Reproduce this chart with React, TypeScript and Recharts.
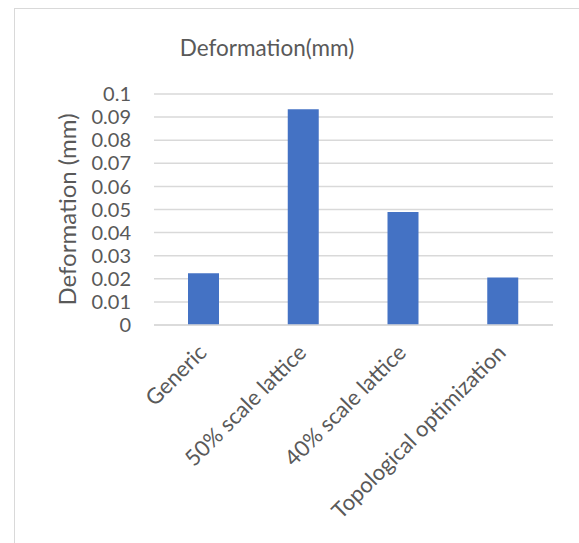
import { BarChart, Bar, XAxis, YAxis, CartesianGrid } from "recharts";

const categories = [
    "Generic",
    "50% scale lattice",
    "40% scale lattice",
    "Topological optimization",
];
const deformation = [0.0224, 0.0934, 0.0489, 0.0206];
const yTicks = [0, 0.01, 0.02, 0.03, 0.04, 0.05, 0.06, 0.07, 0.08, 0.09, 0.1];

const data = categories.map((name, i) => ({ name, value: deformation[i] }));

const FONT = "Lato, 'Open Sans', sans-serif";
const TEXT = "#595959";

export default function App() {
    return (
        <div
            style={{
                position: "absolute",
                left: 0,
                top: 0,
                width: 579,
                height: 543,
                background: "#fff",
                fontFamily: FONT,
            }}
        >
            {/* chart frame: only top and left edges are visible */}
            <div
                style={{
                    position: "absolute",
                    left: 14,
                    top: 8,
                    width: 570,
                    height: 540,
                    borderTop: "1.5px solid #d9d9d9",
                    borderLeft: "1.5px solid #d9d9d9",
                }}
            />
            <div
                style={{
                    position: "absolute",
                    left: 0,
                    width: 534,
                    top: 35,
                    textAlign: "center",
                    fontSize: 22.5,
                    color: TEXT,
                    lineHeight: "26px",
                }}
            >
                Deformation(mm)
            </div>
            <div style={{ position: "absolute", left: 0, top: 0 }}>
                <BarChart
                    width={579}
                    height={543}
                    data={data}
                    margin={{ top: 94, right: 26, bottom: 18, left: 0 }}
                >
                    <CartesianGrid
                        vertical={false}
                        stroke="#d9d9d9"
                        strokeWidth={1.5}
                    />
                    <XAxis
                        dataKey="name"
                        height={200}
                        interval={0}
                        axisLine={{ stroke: "#d9d9d9", strokeWidth: 1.5 }}
                        tickLine={false}
                        tickMargin={12}
                        angle={-45}
                        textAnchor="end"
                        tick={{ fill: TEXT, fontSize: 22, fontFamily: FONT, dx: -7 }}
                    />
                    <YAxis
                        width={154}
                        domain={[0, 0.1]}
                        ticks={yTicks}
                        interval={0}
                        axisLine={false}
                        tickLine={false}
                        tickMargin={17}
                        tick={{ fill: TEXT, fontSize: 20, fontFamily: FONT }}
                        label={{
                            value: "Deformation (mm)",
                            angle: -90,
                            position: "center",
                            dx: -10,
                            fill: TEXT,
                            fontSize: 24,
                            fontFamily: FONT,
                        }}
                    />
                    <Bar
                        dataKey="value"
                        fill="#4472C4"
                        barSize={31}
                        isAnimationActive={false}
                    />
                </BarChart>
            </div>
        </div>
    );
}
